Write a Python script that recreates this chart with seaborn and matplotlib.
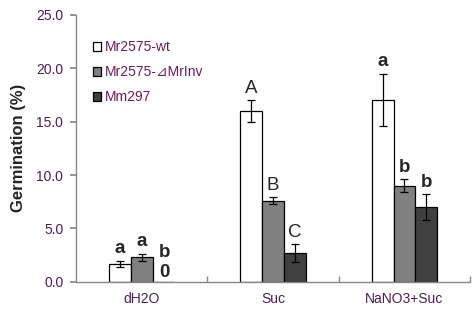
import matplotlib
matplotlib.use("Agg")
import matplotlib.pyplot as plt
import seaborn as sns
import pandas as pd
import numpy as np

categories = ["dH2O", "Suc", "NaNO3+Suc"]
strains = ["Mr2575-wt", "Mr2575-\u22bfMrInv", "Mm297"]
wt_vals = [1.65, 16.0, 17.0]
inv_vals = [2.3, 7.6, 9.0]
mm_vals = [0.0, 2.7, 7.0]
wt_err = [0.3, 1.0, 2.45]
inv_err = [0.35, 0.3, 0.6]
mm_err = [0.0, 0.8, 1.2]
wt_letters = ["a", "A", "a"]
inv_letters = ["a", "B", "b"]
mm_letters = ["b\n0", "C", "b"]

sns.set_theme(style="white")
plt.rcParams["font.family"] = ["Liberation Sans", "DejaVu Sans"]

rows = []
for vals, errs, labs, s in [(wt_vals, wt_err, wt_letters, strains[0]),
                            (inv_vals, inv_err, inv_letters, strains[1]),
                            (mm_vals, mm_err, mm_letters, strains[2])]:
    for c, v, e, l in zip(categories, vals, errs, labs):
        rows.append({"Treatment": c, "Strain": s, "Germination": v, "err": e, "lab": l})
df = pd.DataFrame(rows)

fig = plt.figure(figsize=(4.74, 3.16), dpi=100)
ax = fig.add_axes([0.160, 0.108, 0.832, 0.845])
palette = {strains[0]: "#ffffff", strains[1]: "#808080", strains[2]: "#404040"}
sns.barplot(data=df, x="Treatment", y="Germination", hue="Strain", order=categories,
            hue_order=strains, palette=palette, width=0.5, errorbar=None,
            edgecolor="black", linewidth=0.9, ax=ax, saturation=1)

# error bars & letters at bar positions
for i, s in enumerate(strains):
    cont = ax.containers[i]
    sub = df[df["Strain"] == s].set_index("Treatment").loc[categories]
    for bar, (_, r) in zip(cont, sub.iterrows()):
        xc = bar.get_x() + bar.get_width() / 2
        h = r["Germination"]
        e = r["err"]
        if e > 0:
            ax.errorbar(xc, h, yerr=e, fmt="none", ecolor="black", elinewidth=0.9,
                        capsize=3, capthick=0.9)
        lab = r["lab"]
        if lab == "b\n0":
            ax.text(xc + 0.01, 0.85, "0", ha="center", va="center", fontsize=13.5, fontweight="bold")
            ax.text(xc + 0.01, 2.75, "b", ha="center", va="center", fontsize=13.5, fontweight="bold")
        else:
            bold = "bold" if lab.islower() else "normal"
            ax.text(xc, h + e + 1.15, lab, ha="center", va="center", fontsize=13.5, fontweight=bold)

ax.set_ylim(0, 25)
ax.set_xlim(-0.5, 2.5)
ax.set_yticks(np.arange(0, 25.1, 5))
ax.set_yticklabels([f"{v:.1f}" for v in np.arange(0, 25.1, 5)])
ax.set_ylabel("Germination (%)", fontsize=12, fontweight="bold", labelpad=7)
ax.set_xlabel("")
tickcol = "#4a2050"
ax.tick_params(axis="y", colors="#888888", labelcolor=tickcol, labelsize=10, length=4, direction="out", left=True, pad=5)
ax.tick_params(axis="x", which="major", length=0, labelcolor=tickcol, labelsize=10, pad=7)
ax.set_xticks([0.5, 1.5, 2.5], minor=True)
ax.tick_params(axis="x", which="minor", length=4, direction="in", color="#888888", bottom=True)
for sp in ["top", "right"]:
    ax.spines[sp].set_visible(False)
for sp in ["left", "bottom"]:
    ax.spines[sp].set_color("#888888")
    ax.spines[sp].set_linewidth(1.0)

leg = ax.legend(loc="upper left", bbox_to_anchor=(0.043, 0.905), frameon=False, fontsize=10,
                handlelength=0.6, handleheight=0.6, handletextpad=0.3, labelspacing=0.8,
                borderaxespad=0, borderpad=0)
for t in leg.get_texts():
    t.set_color("#6a1e5a")
for p in leg.get_patches():
    p.set_linewidth(0.9)

fig.savefig("out.png", dpi=100)
